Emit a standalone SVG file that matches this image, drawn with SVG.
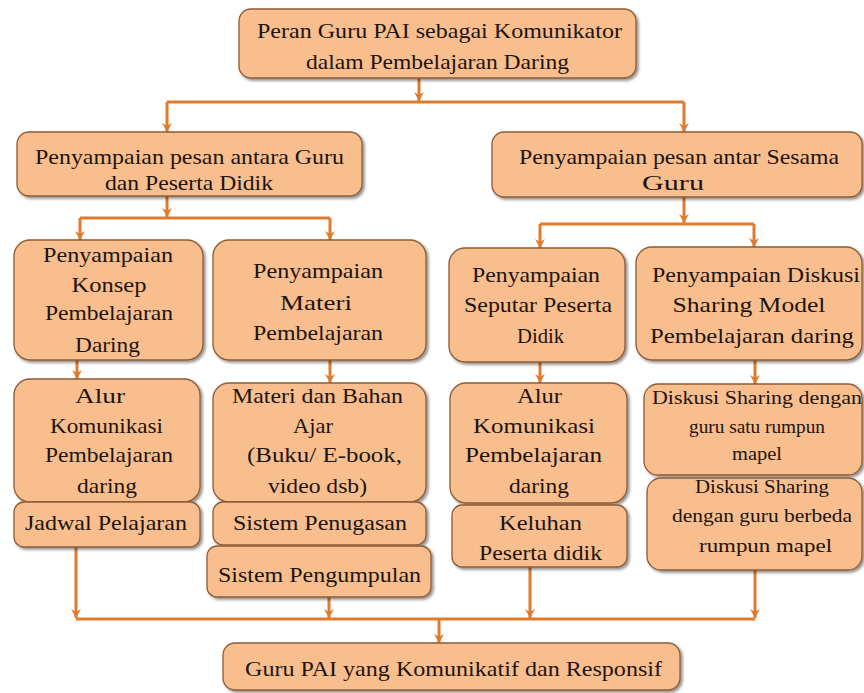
<svg xmlns="http://www.w3.org/2000/svg" width="864" height="693" viewBox="0 0 864 693" font-family="Liberation Serif, DejaVu Serif, serif">
<defs>
<filter id="sh" x="-10%" y="-10%" width="120%" height="130%">
<feGaussianBlur in="SourceAlpha" stdDeviation="1.5"/>
<feOffset dx="1.5" dy="2" result="b"/>
<feComponentTransfer><feFuncA type="linear" slope="0.45"/></feComponentTransfer>
<feMerge><feMergeNode/><feMergeNode in="SourceGraphic"/></feMerge>
</filter>
<marker id="ah" markerUnits="userSpaceOnUse" markerWidth="12" markerHeight="12" viewBox="0 0 12 12" refX="11" refY="6" orient="auto">
<path d="M2,1 L5,6 L2,11 L11,6 Z" fill="#E07A2C"/>
</marker>
</defs>
<style>
.box{fill:#F9BE8E;stroke:#8E5B36;stroke-width:1.3;filter:url(#sh)}
.c{fill:none;stroke:#E07A2C;stroke-width:3}
.a{fill:none;stroke:#E07A2C;stroke-width:3;marker-end:url(#ah)}
.t{font-size:22px;fill:#1c1410;text-anchor:middle}
.s{font-size:19px}
</style>
<rect width="864" height="693" fill="#ffffff"/>
<g id="connectors">
<path class="a" d="M419,78 V101"/>
<path class="c" d="M167,102 H684"/>
<path class="a" d="M167,102 V132"/>
<path class="a" d="M684,102 V132"/>
<path class="a" d="M167,196 V217"/>
<path class="c" d="M80,218 H330"/>
<path class="a" d="M80,218 V240"/>
<path class="a" d="M330,218 V240"/>
<path class="a" d="M684,197 V223"/>
<path class="c" d="M540,224 H754"/>
<path class="a" d="M540,224 V248"/>
<path class="a" d="M754,224 V247"/>
<path class="a" d="M77,360 V379"/>
<path class="a" d="M330,360 V383"/>
<path class="a" d="M540,362 V383"/>
<path class="a" d="M755,360 V384"/>
<path class="a" d="M76,547 V618"/>
<path class="a" d="M329,597 V618"/>
<path class="a" d="M530,567 V618"/>
<path class="a" d="M755,570 V618"/>
<path class="c" d="M76,619 H755"/>
<path class="a" d="M439,619 V643"/>
</g>
<g id="n-top"><rect class="box" x="239" y="9" width="397" height="69" rx="12"/>
<text class="t" x="439.5" y="38" textLength="365" lengthAdjust="spacingAndGlyphs">Peran Guru PAI sebagai Komunikator</text>
<text class="t" x="437.5" y="69" textLength="263" lengthAdjust="spacingAndGlyphs">dalam Pembelajaran Daring</text></g>
<g id="n-guru-siswa"><rect class="box" x="17" y="132" width="345" height="64" rx="12"/>
<text class="t" x="189.5" y="164" textLength="309" lengthAdjust="spacingAndGlyphs">Penyampaian pesan antara Guru</text>
<text class="t" x="189" y="190" textLength="168" lengthAdjust="spacingAndGlyphs">dan Peserta Didik</text></g>
<g id="n-sesama"><rect class="box" x="492" y="132" width="370" height="65" rx="12"/>
<text class="t" x="679" y="164" textLength="320" lengthAdjust="spacingAndGlyphs">Penyampaian pesan antar Sesama</text>
<text class="t" x="673" y="190" textLength="62" lengthAdjust="spacingAndGlyphs">Guru</text></g>
<g id="n-konsep"><rect class="box" x="14" y="240" width="189" height="120" rx="16"/>
<text class="t" x="108" y="262" textLength="130" lengthAdjust="spacingAndGlyphs">Penyampaian</text>
<text class="t" x="109" y="292" textLength="75" lengthAdjust="spacingAndGlyphs">Konsep</text>
<text class="t" x="109" y="320" textLength="128" lengthAdjust="spacingAndGlyphs">Pembelajaran</text>
<text class="t" x="107.5" y="352" textLength="65" lengthAdjust="spacingAndGlyphs">Daring</text></g>
<g id="n-materi"><rect class="box" x="213" y="240" width="213" height="120" rx="16"/>
<text class="t" x="318" y="278" textLength="130" lengthAdjust="spacingAndGlyphs">Penyampaian</text>
<text class="t" x="316" y="310" textLength="72" lengthAdjust="spacingAndGlyphs">Materi</text>
<text class="t" x="318" y="340" textLength="130" lengthAdjust="spacingAndGlyphs">Pembelajaran</text></g>
<g id="n-seputar"><rect class="box" x="449" y="248" width="176" height="114" rx="16"/>
<text class="t" x="536" y="282" textLength="128" lengthAdjust="spacingAndGlyphs">Penyampaian</text>
<text class="t" x="538" y="312" textLength="148" lengthAdjust="spacingAndGlyphs">Seputar Peserta</text>
<text class="t" x="540.5" y="343" textLength="47" lengthAdjust="spacingAndGlyphs">Didik</text></g>
<g id="n-diskusi"><rect class="box" x="636" y="247" width="226" height="113" rx="16"/>
<text class="t" x="756" y="282" textLength="208" lengthAdjust="spacingAndGlyphs">Penyampaian Diskusi</text>
<text class="t" x="749" y="312" textLength="153" lengthAdjust="spacingAndGlyphs">Sharing Model</text>
<text class="t" x="752" y="343" textLength="204" lengthAdjust="spacingAndGlyphs">Pembelajaran daring</text></g>
<g id="n-alur-1"><rect class="box" x="14" y="379" width="186" height="123" rx="16"/>
<text class="t" x="100" y="403" textLength="50" lengthAdjust="spacingAndGlyphs">Alur</text>
<text class="t" x="106.5" y="433" textLength="113" lengthAdjust="spacingAndGlyphs">Komunikasi</text>
<text class="t" x="109" y="462" textLength="128" lengthAdjust="spacingAndGlyphs">Pembelajaran</text>
<text class="t" x="107" y="493" textLength="60" lengthAdjust="spacingAndGlyphs">daring</text></g>
<g id="n-jadwal"><rect class="box" x="14" y="502" width="186" height="45" rx="10"/>
<text class="t" x="106" y="530" textLength="162" lengthAdjust="spacingAndGlyphs">Jadwal Pelajaran</text></g>
<g id="n-bahan"><rect class="box" x="213" y="383" width="213" height="119" rx="16"/>
<text class="t" x="317.5" y="403" textLength="171" lengthAdjust="spacingAndGlyphs">Materi dan Bahan</text>
<text class="t" x="313" y="433" textLength="40" lengthAdjust="spacingAndGlyphs">Ajar</text>
<text class="t" x="324.5" y="462" textLength="155" lengthAdjust="spacingAndGlyphs">(Buku/ E-book,</text>
<text class="t" x="317.5" y="493" textLength="99" lengthAdjust="spacingAndGlyphs">video dsb)</text></g>
<g id="n-penugasan"><rect class="box" x="213" y="502" width="213" height="43" rx="10"/>
<text class="t" x="320" y="530" textLength="174" lengthAdjust="spacingAndGlyphs">Sistem Penugasan</text></g>
<g id="n-pengumpulan"><rect class="box" x="207" y="546" width="224" height="51" rx="10"/>
<text class="t" x="319.5" y="582" textLength="203" lengthAdjust="spacingAndGlyphs">Sistem Pengumpulan</text></g>
<g id="n-alur-2"><rect class="box" x="450" y="383" width="177" height="120" rx="16"/>
<text class="t" x="539.5" y="403" textLength="45" lengthAdjust="spacingAndGlyphs">Alur</text>
<text class="t" x="534" y="433" textLength="122" lengthAdjust="spacingAndGlyphs">Komunikasi</text>
<text class="t" x="533.5" y="462" textLength="137" lengthAdjust="spacingAndGlyphs">Pembelajaran</text>
<text class="t" x="539" y="493" textLength="60" lengthAdjust="spacingAndGlyphs">daring</text></g>
<g id="n-keluhan"><rect class="box" x="452" y="505" width="175" height="62" rx="10"/>
<text class="t" x="540.5" y="530" textLength="83" lengthAdjust="spacingAndGlyphs">Keluhan</text>
<text class="t" x="540.5" y="560" textLength="123" lengthAdjust="spacingAndGlyphs">Peserta didik</text></g>
<g id="n-satu-rumpun"><rect class="box" x="644" y="384" width="218" height="91" rx="14"/>
<text class="t s" x="757" y="404" textLength="210" lengthAdjust="spacingAndGlyphs">Diskusi Sharing dengan</text>
<text class="t s" x="757" y="433" textLength="136" lengthAdjust="spacingAndGlyphs">guru satu rumpun</text>
<text class="t s" x="757" y="460" textLength="50" lengthAdjust="spacingAndGlyphs">mapel</text></g>
<g id="n-beda-rumpun"><rect class="box" x="647" y="478" width="215" height="92" rx="14"/>
<text class="t s" x="762" y="493" textLength="134" lengthAdjust="spacingAndGlyphs">Diskusi Sharing</text>
<text class="t s" x="762" y="522" textLength="180" lengthAdjust="spacingAndGlyphs">dengan guru berbeda</text>
<text class="t s" x="765.5" y="552" textLength="133" lengthAdjust="spacingAndGlyphs">rumpun mapel</text></g>
<g id="n-hasil"><rect class="box" x="223" y="643" width="457" height="47" rx="12"/>
<text class="t" x="453.5" y="676" textLength="417" lengthAdjust="spacingAndGlyphs">Guru PAI yang Komunikatif dan Responsif</text></g>
</svg>
